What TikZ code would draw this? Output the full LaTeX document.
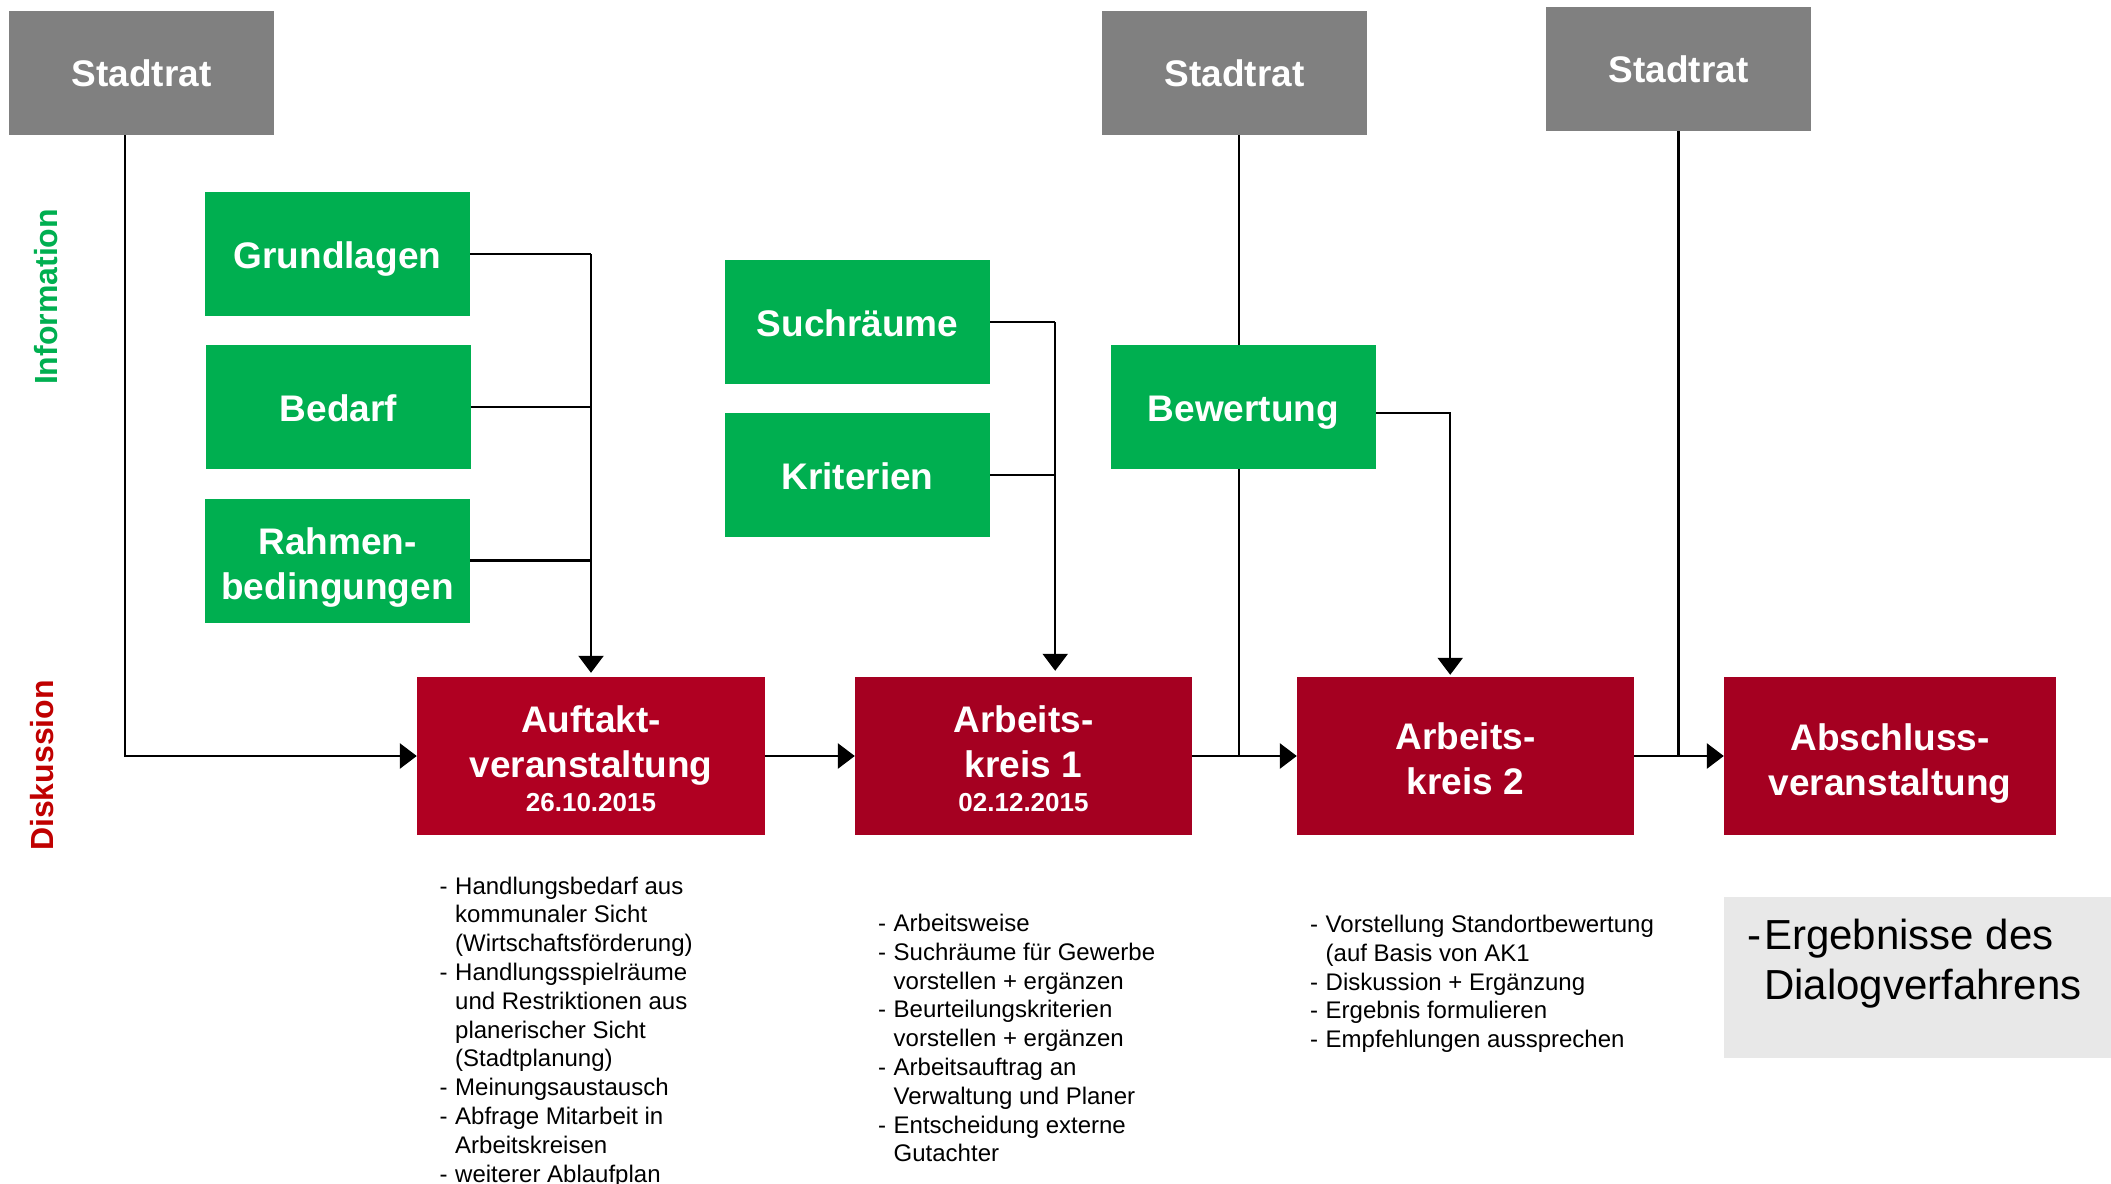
\documentclass[tikz,border=0pt]{standalone}
\usepackage{fontspec}
\setmainfont{Liberation Sans}
\usetikzlibrary{arrows.meta,calc}
\definecolor{stgray}{HTML}{808080}
\definecolor{infgreen}{HTML}{00AF50}
\definecolor{redA}{HTML}{B00022}
\definecolor{redB}{HTML}{A50021}
\definecolor{lightbox}{HTML}{E8E8E8}
\definecolor{diskred}{HTML}{C00000}
\newcommand{\nd}[1]{\raisebox{0pt}[\height][0pt]{#1}}
\newcommand{\tpa}[1]{\raisebox{0pt}[29.5pt][\depth]{#1}}
\newcommand{\tpb}[1]{\raisebox{0pt}[33pt][\depth]{#1}}
\newcommand{\itm}[1]{\makebox[15.5pt][l]{-}#1}
\newcommand{\cnt}[1]{\hspace*{15.5pt}#1}
\begin{document}
\begin{tikzpicture}[x=1pt,y=-1pt,
  box/.style={rectangle, inner sep=0pt, minimum width=265pt, minimum height=124pt,
    text=white, font=\bfseries\fontsize{37}{45}\selectfont, align=center},
  ratbox/.style={box, fill=stgray},
  infobox/.style={box, fill=infgreen},
  evbox/.style={box, minimum height=158pt, minimum width=337pt, fill=redB},
  conn/.style={draw=black, line width=2.2pt},
  flow/.style={draw=black, line width=2.8pt},
  tip/.style={-{Triangle[length=17pt,width=25pt]}},
  listtxt/.style={anchor=north west, inner sep=0pt, align=left,
    font=\fontsize{24}{28.8}\selectfont},
  sidelbl/.style={rotate=90, inner sep=0pt, font=\bfseries\fontsize{32}{38}\selectfont}
]
\useasboundingbox (0,0) rectangle (2111,1183);

% side labels
\node[sidelbl, text=infgreen] (info) at (46,297) {Information};
\node[sidelbl, text=diskred] (disk) at (42,765.5) {Diskussion};

% Stadtrat boxes
\node[ratbox] (st1) at (141.5,73) {Stadtrat};
\node[ratbox] (st2) at (1234.5,73) {Stadtrat};
\node[ratbox] (st3) at (1678.5,69) {Stadtrat};

% information boxes
\node[infobox] (grund) at (337.5,254) {\tpa{\nd{Grundlagen}}};
\node[infobox] (bedarf) at (338.5,407) {\tpa{Bedarf}};
\node[infobox] (rahmen) at (337.5,560.5) {\tpb{Rahmen-}\\\nd{bedingungen}};
\node[infobox] (such) at (857.5,322) {\tpa{Suchräume}};
\node[infobox] (krit) at (857.5,475) {\tpa{Kriterien}};
\node[infobox] (bew) at (1243.5,407) {\tpa{\nd{Bewertung}}};

% event boxes
\node[evbox, fill=redA, minimum width=348pt] (auf) at (591,756)
  {\tpb{Auftakt-}\\veranstaltung\\[-11pt]{\fontsize{26}{30}\selectfont 26.10.2015}};
\node[evbox] (ak1) at (1023.5,756)
  {\tpb{Arbeits-}\\kreis 1\\[-11pt]{\fontsize{26}{30}\selectfont 02.12.2015}};
\node[evbox] (ak2) at (1465.5,756) {\tpb{Arbeits-}\\kreis 2};
\node[evbox, minimum width=332pt] (absch) at (1890,756) {\tpb{Abschluss-}\\\nd{veranstaltung}};

% result box
\node[fill=lightbox, inner sep=0pt, minimum width=387pt, minimum height=161pt] (erg) at (1917.5,977.5) {};
\node[anchor=north west, inner sep=0pt, align=left, font=\fontsize{42}{50.5}\selectfont] (ergtxt) at (1747,918.5)
  {\makebox[17pt][l]{-}Ergebnisse des\\\hspace*{17pt}Dialogverfahrens};

% lists
\node[listtxt] (l1) at (439.5,876.4)
  {\itm{Handlungsbedarf aus}\\\cnt{kommunaler Sicht}\\\cnt{(Wirtschaftsförderung)}\\
   \itm{Handlungsspielräume}\\\cnt{und Restriktionen aus}\\\cnt{planerischer Sicht}\\\cnt{(Stadtplanung)}\\
   \itm{Meinungsaustausch}\\\itm{Abfrage Mitarbeit in}\\\cnt{Arbeitskreisen}\\\itm{weiterer Ablaufplan}};
\node[listtxt] (l2) at (878,913.9)
  {\itm{Arbeitsweise}\\\itm{Suchräume für Gewerbe}\\\cnt{vorstellen + ergänzen}\\
   \itm{Beurteilungskriterien}\\\cnt{vorstellen + ergänzen}\\\itm{Arbeitsauftrag an}\\
   \cnt{Verwaltung und Planer}\\\itm{Entscheidung externe}\\\cnt{Gutachter}};
\node[listtxt] (l3) at (1310,914.9)
  {\itm{Vorstellung Standortbewertung}\\\cnt{(auf Basis von AK1}\\\itm{Diskussion + Ergänzung}\\
   \itm{Ergebnis formulieren}\\\itm{Empfehlungen aussprechen}};

% connectors
\draw[flow,tip] ([xshift=-16.5pt]st1.south) |- (auf.west);
\draw[conn] (grund.east) -- (grund.east -| auf.north);
\draw[conn] (bedarf.east) -- (bedarf.east -| auf.north);
\draw[conn] (rahmen.east) -- (rahmen.east -| auf.north);
\draw[conn,tip,shorten >=4pt] (grund.east -| auf.north) -- (auf.north);

\coordinate (j2) at ($(such.east)+(65,0)$);
\draw[conn] (such.east) -- (j2);
\draw[conn] (krit.east) -- (krit.east -| j2);
\draw[conn,tip,shorten >=6pt] (j2) -- (j2 |- ak1.north);

\coordinate (b3) at ($(bew.east)+(0,6)$);
\coordinate (j3) at ($(b3)+(74,0)$);
\draw[conn,tip,shorten >=2pt] (b3) -- (j3) -- (j3 |- ak2.north);

\draw[conn] ([xshift=4.5pt]st2.south) -- ([xshift=-4.5pt]bew.north);
\draw[conn] ([xshift=-4.5pt]bew.south) -- ([xshift=-4.5pt]bew.south |- ak1.east);
\draw[conn] (st3.south) -- (st3.south |- ak2.east);

\draw[flow,tip] (auf.east) -- (ak1.west);
\draw[flow,tip] (ak1.east) -- (ak2.west);
\draw[flow,tip] (ak2.east) -- (absch.west);
\end{tikzpicture}
\end{document}
